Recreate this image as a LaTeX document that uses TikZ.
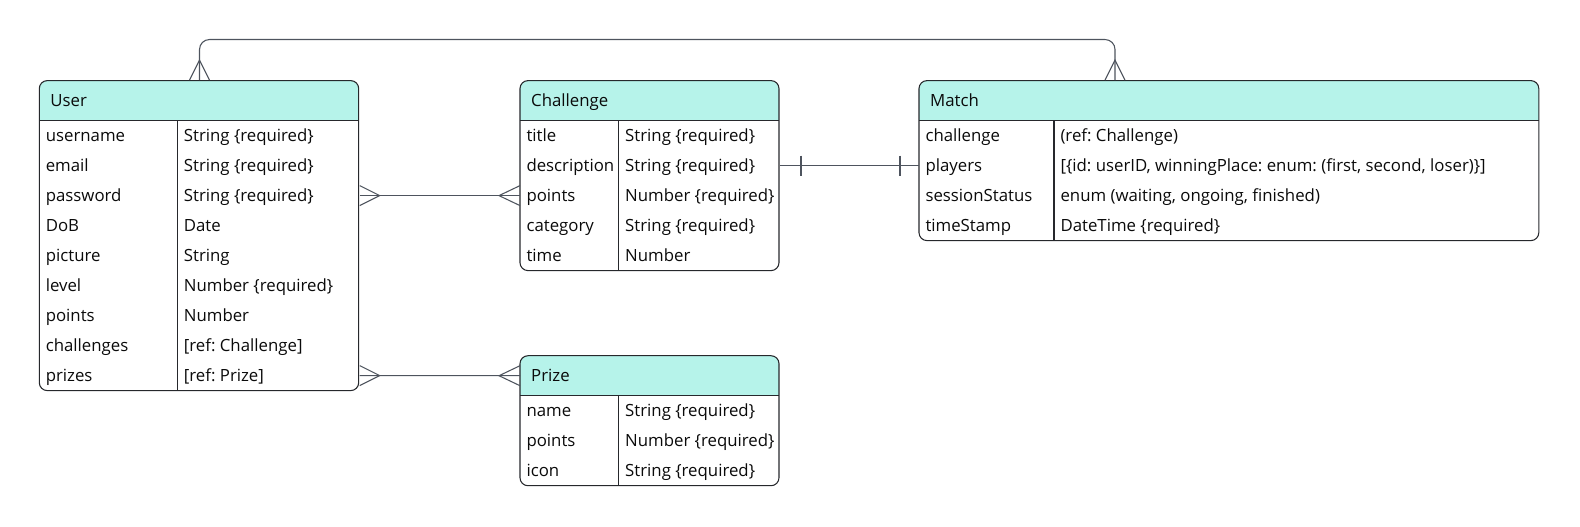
\documentclass[tikz,border=0pt]{standalone}
\usepackage{fontspec}
\setmainfont{Open Sans}
\frenchspacing
\usetikzlibrary{positioning}

\definecolor{hdrteal}{RGB}{182,243,234}
\definecolor{tblline}{RGB}{38,40,44}
\definecolor{linkgray}{RGB}{78,84,94}
\definecolor{txtblack}{RGB}{10,10,10}

\tikzset{every picture/.style={line width=0.75pt}}
\tikzset{
  tbl/.style={draw=tblline, line width=0.8pt},
  link/.style={draw=linkgray, line width=0.8pt},
  cell/.style={anchor=west, inner xsep=4.5pt, inner ysep=0pt, minimum height=22.5pt,
    text height=8.4pt, text depth=0pt, text=txtblack, font=\fontsize{12.6}{14}\selectfont},
  hdr/.style={cell, inner xsep=8pt, minimum height=30pt, align=left},
}

\begin{document}
\begin{tikzpicture}[x=0.75pt,y=0.75pt,yscale=-1,xscale=1]
		\path[use as bounding box] (0,0) rectangle (1580,526);

		%Shape: Table User [id:user]
		\begin{scope}
		\clip[rounded corners=6pt] (39.3,80.6) rectangle (358.7,390.6);
		\fill[hdrteal] (39.3,80.6) rectangle (358.7,120.6);
		\end{scope}
		\draw[tbl, rounded corners=6pt] (39.3,80.6) rectangle (358.7,390.6);
		\draw[tbl] (39.3,120.6) -- (358.7,120.6);
		\draw[tbl] (177.4,120.6) -- (177.4,390.6);

		%Shape: Table Challenge [id:challenge]
		\begin{scope}
		\clip[rounded corners=6pt] (520,80.6) rectangle (779,270.6);
		\fill[hdrteal] (520,80.6) rectangle (779,120.6);
		\end{scope}
		\draw[tbl, rounded corners=6pt] (520,80.6) rectangle (779,270.6);
		\draw[tbl] (520,120.6) -- (779,120.6);
		\draw[tbl] (618.7,120.6) -- (618.7,270.6);

		%Shape: Table Match [id:match]
		\begin{scope}
		\clip[rounded corners=6pt] (919,80.6) rectangle (1538.8,240.6);
		\fill[hdrteal] (919,80.6) rectangle (1538.8,120.6);
		\end{scope}
		\draw[tbl, rounded corners=6pt] (919,80.6) rectangle (1538.8,240.6);
		\draw[tbl] (919,120.6) -- (1538.8,120.6);
		\draw[tbl] (1054,120.6) -- (1054,240.6);

		%Shape: Table Prize [id:prize]
		\begin{scope}
		\clip[rounded corners=6pt] (520,355.7) rectangle (779,485.7);
		\fill[hdrteal] (520,355.7) rectangle (779,395.7);
		\end{scope}
		\draw[tbl, rounded corners=6pt] (520,355.7) rectangle (779,485.7);
		\draw[tbl] (520,395.7) -- (779,395.7);
		\draw[tbl] (618.7,395.7) -- (618.7,485.7);

		% Text Node
		\node[hdr, text width=223.55pt] (u-head) at (39.3,100.6) {User};
		% Text Node
		\node[cell] (u-username) at (39.3,135.6) {username};
		\node[cell] (u-email) at (39.3,165.6) {email};
		\node[cell] (u-password) at (39.3,195.6) {password};
		\node[cell] (u-dob) at (39.3,225.6) {DoB};
		\node[cell] (u-picture) at (39.3,255.6) {picture};
		\node[cell] (u-level) at (39.3,285.6) {level};
		\node[cell] (u-points) at (39.3,315.6) {points};
		\node[cell] (u-challenges) at (39.3,345.6) {challenges};
		\node[cell] (u-prizes) at (39.3,375.6) {prizes};
		% Text Node
		\node[cell] (u-username-t) at (177.4,135.6) {String \{required\}};
		\node[cell] (u-email-t) at (177.4,165.6) {String \{required\}};
		\node[cell] (u-password-t) at (177.4,195.6) {String \{required\}};
		\node[cell] (u-dob-t) at (177.4,225.6) {Date};
		\node[cell] (u-picture-t) at (177.4,255.6) {String};
		\node[cell] (u-level-t) at (177.4,285.6) {Number \{required\}};
		\node[cell] (u-points-t) at (177.4,315.6) {Number};
		\node[cell] (u-challenges-t) at (177.4,345.6) {[ref: Challenge]};
		\node[cell] (u-prizes-t) at (177.4,375.6) {[ref: Prize]};

		% Text Node
		\node[hdr, text width=178.25pt] (c-head) at (520,100.6) {Challenge};
		% Text Node
		\node[cell] (c-title) at (520,135.6) {title};
		\node[cell] (c-desc) at (520,165.6) {description};
		\node[cell] (c-points) at (520,195.6) {points};
		\node[cell] (c-category) at (520,225.6) {category};
		\node[cell] (c-time) at (520,255.6) {time};
		% Text Node
		\node[cell] (c-title-t) at (618.7,135.6) {String \{required\}};
		\node[cell] (c-desc-t) at (618.7,165.6) {String \{required\}};
		\node[cell] (c-points-t) at (618.7,195.6) {Number \{required\}};
		\node[cell] (c-category-t) at (618.7,225.6) {String \{required\}};
		\node[cell] (c-time-t) at (618.7,255.6) {Number};

		% Text Node
		\node[hdr, text width=448.85pt] (m-head) at (919,100.6) {Match};
		% Text Node
		\node[cell] (m-challenge) at (919,135.6) {challenge};
		\node[cell] (m-players) at (919,165.6) {players};
		\node[cell] (m-status) at (919,195.6) {sessionStatus};
		\node[cell] (m-stamp) at (919,225.6) {timeStamp};
		% Text Node
		\node[cell] (m-challenge-t) at (1054,135.6) {(ref: Challenge)};
		\node[cell] (m-players-t) at (1054,165.6) {[\{id: userID, winningPlace: enum: (first, second, loser)\}]};
		\node[cell] (m-status-t) at (1054,195.6) {enum (waiting, ongoing, finished)};
		\node[cell] (m-stamp-t) at (1054,225.6) {DateTime \{required\}};

		% Text Node
		\node[hdr, text width=178.25pt] (p-head) at (520,375.7) {Prize};
		% Text Node
		\node[cell] (p-name) at (520,410.7) {name};
		\node[cell] (p-points) at (520,440.7) {points};
		\node[cell] (p-icon) at (520,470.7) {icon};
		% Text Node
		\node[cell] (p-name-t) at (618.7,410.7) {String \{required\}};
		\node[cell] (p-points-t) at (618.7,440.7) {Number \{required\}};
		\node[cell] (p-icon-t) at (618.7,470.7) {String \{required\}};

		%Straight Lines [id:user-match]
		\draw[link, rounded corners=7.5pt] (u-head.north) -- ++(0,-40.6) -| ([xshift=147pt]m-head.north west);
		\draw[link] (u-head.north) ++(-10,0) -- ++(10,-20) -- ++(10,20);
		\draw[link] ([xshift=147pt]m-head.north west) ++(-10,0) -- ++(10,-20) -- ++(10,20);
		%Straight Lines [id:user-challenge]
		\draw[link] (u-password -| u-head.east) -- (c-points.west);
		\draw[link] (u-password -| u-head.east) ++(0,-10) -- ++(20,10) -- ++(-20,10);
		\draw[link] (c-points.west) ++(0,-10) -- ++(-21,10) -- ++(21,10);
		%Straight Lines [id:user-prize]
		\draw[link] (u-prizes -| u-head.east) -- (p-head.west);
		\draw[link] (u-prizes -| u-head.east) ++(0,-10) -- ++(20,10) -- ++(-20,10);
		\draw[link] (p-head.west) ++(0,-10) -- ++(-21,10) -- ++(21,10);
		%Straight Lines [id:challenge-match]
		\draw[link] (c-desc -| c-head.east) -- (m-players.west);
		\draw[link] (c-desc -| c-head.east) ++(21,-10) -- ++(0,20);
		\draw[link] (m-players.west) ++(-19,-10) -- ++(0,20);

\end{tikzpicture}
\end{document}
